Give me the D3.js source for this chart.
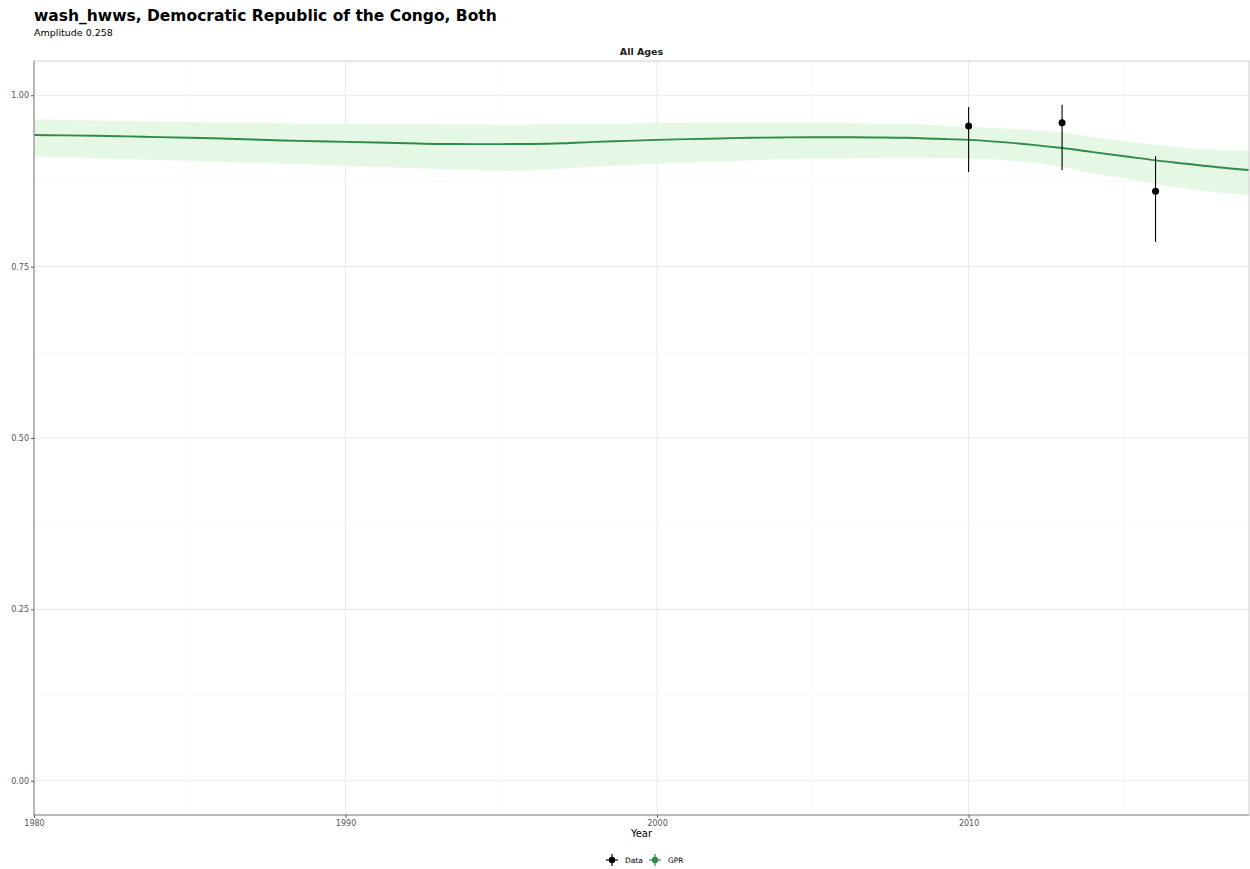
<!DOCTYPE html>
<html><head><meta charset="utf-8">
<script src="https://cdn.jsdelivr.net/npm/d3@7"></script>
<style>body{margin:0;background:#fff;font-family:"DejaVu Sans",sans-serif}</style>
</head><body><svg id="c" width="1250" height="869"></svg>
<script>
const years = d3.range(1980, 2020);
const gprMean = [0.942,0.9415,0.941,0.940,0.939,0.938,0.937,0.9355,0.934,0.933,
  0.932,0.931,0.930,0.929,0.9288,0.9288,0.929,0.930,0.932,0.9335,
  0.935,0.936,0.937,0.938,0.9385,0.9388,0.9388,0.9385,0.938,0.9365,
  0.935,0.932,0.928,0.923,0.917,0.911,0.905,0.900,0.895,0.891];
const gprUpper = [0.965,0.964,0.9633,0.9625,0.9618,0.961,0.9604,0.9598,0.9592,0.9586,
  0.958,0.9578,0.9576,0.9574,0.9572,0.957,0.9575,0.958,0.9586,0.959,
  0.9594,0.9597,0.96,0.9602,0.9602,0.96,0.9596,0.959,0.958,0.9562,
  0.9536,0.952,0.9495,0.946,0.939,0.9325,0.928,0.923,0.920,0.919];
const gprLower = [0.9107,0.9095,0.9083,0.907,0.9057,0.9044,0.903,0.9015,0.900,0.8985,
  0.897,0.8955,0.894,0.8925,0.891,0.8893,0.8905,0.893,0.896,0.898,
  0.900,0.9018,0.9035,0.905,0.9065,0.9077,0.9083,0.9086,0.9087,0.9085,
  0.908,0.906,0.902,0.895,0.886,0.879,0.871,0.864,0.858,0.855];
const dataYears = [2010, 2013, 2016];
const dataValues = [0.955, 0.960, 0.860];
const dataLower = [0.888, 0.891, 0.786];
const dataUpper = [0.983, 0.986, 0.911];
const xTicks = [1980, 1990, 2000, 2010];
const yTicks = [0, 0.25, 0.5, 0.75, 1.0];
const yMinor = [0.125, 0.375, 0.625, 0.875];
const xMinor = [1985, 1995, 2005, 2015];

const svg = d3.select("#c");
const L = 34, R = 1249, T = 61, B = 815;
const x = d3.scaleLinear().domain([1980, 2019]).range([L, R]);
const y = d3.scaleLinear().domain([-0.05, 1.05]).range([B, T]);

// grid
const g = svg.append("g");
g.selectAll(".ym").data(yMinor).enter().append("line")
  .attr("x1", L).attr("x2", R).attr("y1", d => y(d)).attr("y2", d => y(d))
  .attr("stroke", "#f2f2f2").attr("stroke-width", 0.6);
g.selectAll(".xm").data(xMinor).enter().append("line")
  .attr("y1", T).attr("y2", B).attr("x1", d => x(d)).attr("x2", d => x(d))
  .attr("stroke", "#f2f2f2").attr("stroke-width", 0.6);
g.selectAll(".yg").data(yTicks).enter().append("line")
  .attr("x1", L).attr("x2", R).attr("y1", d => y(d)).attr("y2", d => y(d))
  .attr("stroke", "#ebebeb").attr("stroke-width", 1.1);
g.selectAll(".xg").data(xTicks).enter().append("line")
  .attr("y1", T).attr("y2", B).attr("x1", d => x(d)).attr("x2", d => x(d))
  .attr("stroke", "#ebebeb").attr("stroke-width", 1.1);

// band
const rows = years.map((yr, i) => ({yr, m: gprMean[i], lo: gprLower[i], hi: gprUpper[i]}));
svg.append("path").datum(rows)
  .attr("d", d3.area().x(d => x(d.yr)).y0(d => y(d.lo)).y1(d => y(d.hi)).curve(d3.curveMonotoneX))
  .attr("fill", "#e5f8e5");
svg.append("path").datum(rows)
  .attr("d", d3.line().x(d => x(d.yr)).y(d => y(d.m)).curve(d3.curveMonotoneX))
  .attr("fill", "none").attr("stroke", "#2e8b4a").attr("stroke-width", 1.9);

// data
const pts = dataYears.map((yr, i) => ({yr, v: dataValues[i], lo: dataLower[i], hi: dataUpper[i]}));
svg.selectAll(".eb").data(pts).enter().append("line")
  .attr("x1", d => x(d.yr)).attr("x2", d => x(d.yr))
  .attr("y1", d => y(d.lo)).attr("y2", d => y(d.hi))
  .attr("stroke", "#000").attr("stroke-width", 1.1);
svg.selectAll(".pt").data(pts).enter().append("circle")
  .attr("cx", d => x(d.yr)).attr("cy", d => y(d.v)).attr("r", 3.5).attr("fill", "#000");

// panel border
svg.append("rect").attr("x", L).attr("y", T).attr("width", R - L).attr("height", B - T)
  .attr("fill", "none").attr("stroke", "#cfcfcf").attr("stroke-width", 1);
svg.append("line").attr("x1", L).attr("x2", L).attr("y1", T).attr("y2", B).attr("stroke", "#8a8a8a").attr("stroke-width", 1);
svg.append("line").attr("x1", L).attr("x2", R).attr("y1", B).attr("y2", B).attr("stroke", "#8a8a8a").attr("stroke-width", 1);

// axes
const ax = svg.append("g").attr("transform", `translate(0,${B})`)
  .call(d3.axisBottom(x).tickValues(xTicks).tickFormat(d3.format("d")).tickSize(3).tickPadding(2));
const ay = svg.append("g").attr("transform", `translate(${L},0)`)
  .call(d3.axisLeft(y).tickValues(yTicks).tickFormat(d3.format(".2f")).tickSize(3).tickPadding(2));
[ax, ay].forEach(a => {
  a.select(".domain").remove();
  a.selectAll(".tick line").attr("stroke", "#555");
  a.selectAll(".tick text").attr("fill", "#555").style("font-size", "8px").style("font-family", "DejaVu Sans");
});

// texts
svg.append("text").attr("x", 34).attr("y", 21).text("wash_hwws, Democratic Republic of the Congo, Both")
  .style("font-size", "15.5px").style("font-weight", "bold").attr("fill", "#000");
svg.append("text").attr("x", 34).attr("y", 36).text("Amplitude 0.258")
  .style("font-size", "9.5px").attr("fill", "#000");
svg.append("text").attr("x", (L + R) / 2).attr("y", 55).attr("text-anchor", "middle").text("All Ages")
  .style("font-size", "9.5px").style("font-weight", "bold").attr("fill", "#1a1a1a");
svg.append("text").attr("x", (L + R) / 2).attr("y", 837).attr("text-anchor", "middle").text("Year")
  .style("font-size", "10px").attr("fill", "#000");

// legend
const legend = [{name: "Data", color: "#000", x: 612}, {name: "GPR", color: "#2e8b4a", x: 655}];
const lg = svg.selectAll(".lg").data(legend).enter().append("g")
  .attr("transform", d => `translate(${d.x},860)`);
lg.append("line").attr("x1", -6).attr("x2", 6).attr("y1", 0).attr("y2", 0).attr("stroke", d => d.color).attr("stroke-width", 1.2);
lg.append("line").attr("x1", 0).attr("x2", 0).attr("y1", -6).attr("y2", 6).attr("stroke", d => d.color).attr("stroke-width", 1.2);
lg.append("circle").attr("r", 3.2).attr("fill", d => d.color);
lg.append("text").attr("x", 13).attr("y", 3).text(d => d.name).style("font-size", "7.5px").attr("fill", "#000");
</script></body></html>
